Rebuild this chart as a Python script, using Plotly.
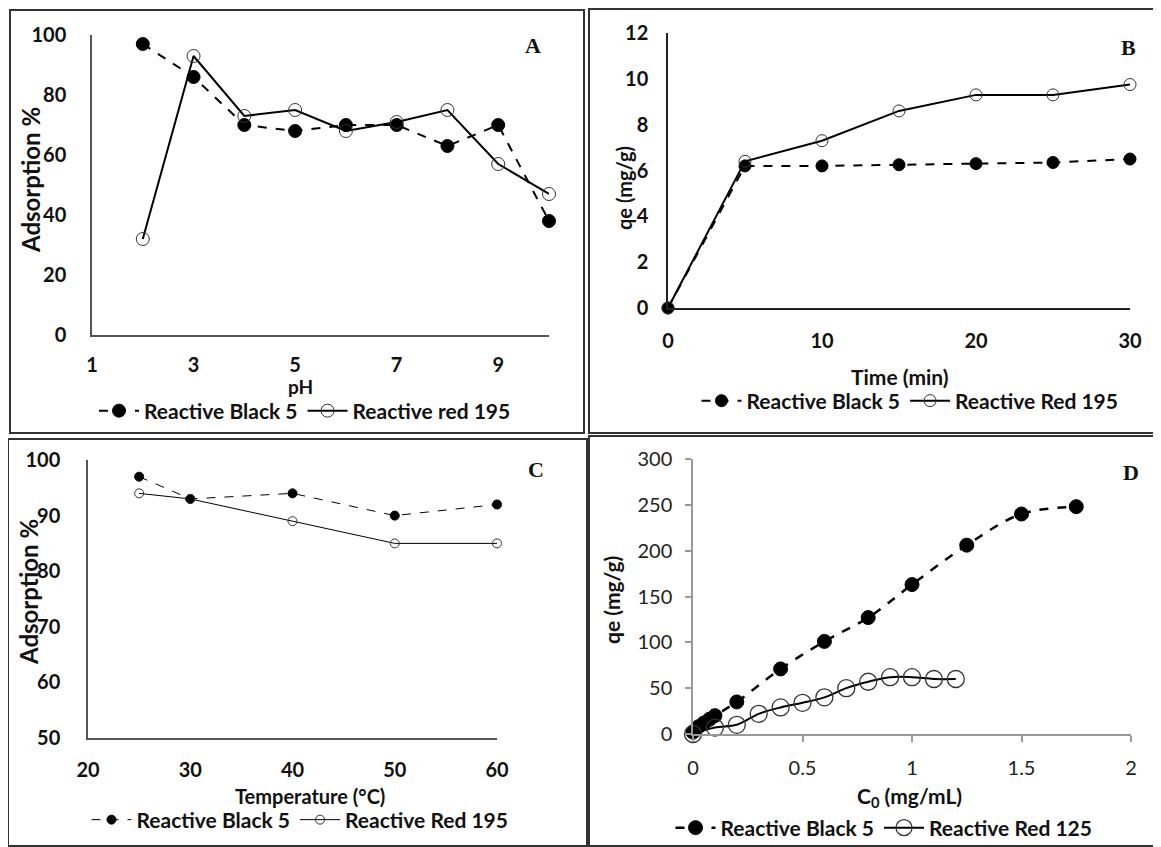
import plotly.graph_objects as go

# ---------------- data ----------------
# Panel A: pH
ph = [2, 3, 4, 5, 6, 7, 8, 9, 10]
a_black5 = [97, 86, 70, 68, 70, 70, 63, 70, 38]
a_red195 = [32, 93, 73, 75, 68, 71, 75, 57, 47]

# Panel B: time
time_min = [0, 5, 10, 15, 20, 25, 30]
b_black5 = [0, 6.2, 6.2, 6.25, 6.3, 6.35, 6.5]
b_red195 = [0, 6.4, 7.3, 8.6, 9.3, 9.3, 9.75]

# Panel C: temperature
temp_c = [25, 30, 40, 50, 60]
c_black5 = [97, 93, 94, 90, 92]
c_red195 = [94, 93, 89, 85, 85]

# Panel D: initial concentration
d_black5_x = [0, 0.01, 0.025, 0.05, 0.075, 0.1, 0.2, 0.4, 0.6, 0.8, 1.0, 1.25, 1.5, 1.75]
d_black5_y = [2, 4, 8, 12, 16, 20, 35, 71, 101, 127, 163, 206, 240, 248]
d_red125_x = [0, 0.1, 0.2, 0.3, 0.4, 0.5, 0.6, 0.7, 0.8, 0.9, 1.0, 1.1, 1.2]
d_red125_y = [0, 7, 10, 22, 29, 34, 40, 50, 57, 62, 62, 60, 60]

# tick labels
a_xticks = [1, 3, 5, 7, 9]
a_yticks = [0, 20, 40, 60, 80, 100]
b_xticks = [0, 10, 20, 30]
b_yticks = [0, 2, 4, 6, 8, 10, 12]
c_xticks = [20, 30, 40, 50, 60]
c_yticks = [50, 60, 70, 80, 90, 100]
d_xticks = [0, 0.5, 1, 1.5, 2]
d_yticks = [0, 50, 100, 150, 200, 250, 300]

W, H = 1161, 847
OFF = 8  # page body margin of the HTML wrapper
FONT = "Lato"
BOLD_TICK = dict(family=FONT, size=20, color="#111", weight="bold")


def px(x):
    return (x - OFF) / W


def py(y):
    return 1 - (y - OFF) / H


fig = go.Figure()

# ---------- traces ----------
def add(x, y, name, xa, ya, leg, filled, dash, lw, msize, shape="linear", mlw=1):
    fig.add_trace(go.Scatter(
        x=x, y=y, name=name, xaxis=xa, yaxis=ya, legend=leg,
        mode="lines+markers", cliponaxis=False,
        line=dict(color="black", width=lw, dash=dash, shape=shape),
        marker=dict(symbol="circle" if filled else "circle-open", size=msize,
                    color="black" if filled else "#333",
                    line=dict(width=mlw, color="black" if filled else "#333")),
    ))

add(ph, a_black5, "Reactive Black 5", "x", "y", "legend", True, "dash", 2, 13)
add(ph, a_red195, "Reactive red 195", "x", "y", "legend", False, "solid", 2, 13)
add(time_min, b_black5, "Reactive Black 5", "x2", "y2", "legend2", True, "dash", 2, 12)
add(time_min, b_red195, "Reactive Red 195", "x2", "y2", "legend2", False, "solid", 2, 12)
add(temp_c, c_black5, "Reactive Black 5", "x3", "y3", "legend3", True, "dash", 1, 9)
add(temp_c, c_red195, "Reactive Red 195", "x3", "y3", "legend3", False, "solid", 1, 9)
add(d_black5_x, d_black5_y, "Reactive Black 5", "x4", "y4", "legend4", True, "dash", 2.5, 14, "spline")
add(d_red125_x, d_red125_y, "Reactive Red 125", "x4", "y4", "legend4", False, "solid", 2, 17, "spline", 1.3)

# ---------- axes ----------
def axis(domain, rng, ticks, color="#555", tickfont=BOLD_TICK, outside=False, fmt=None, standoff=16):
    d = dict(domain=domain, range=rng, tickvals=ticks, showgrid=False, zeroline=False,
             showline=True, linecolor=color, linewidth=1.5, tickfont=tickfont,
             ticklabelstandoff=standoff, fixedrange=True, automargin=False)
    if outside:
        d.update(ticks="outside", ticklen=6, tickcolor="#999", tickwidth=1.5, ticklabelstandoff=9)
    else:
        d.update(ticks="")
    if fmt:
        d["ticktext"] = fmt
    return d

D_TICK = dict(family=FONT, size=20, color="#222")
fig.update_layout(
    xaxis=axis([px(92), px(549)], [1, 10], a_xticks, standoff=11) | dict(anchor="y"),
    yaxis=axis([py(335), py(35)], [0, 100], a_yticks, standoff=20) | dict(anchor="x"),
    xaxis2=axis([px(668), px(1130)], [0, 30], b_xticks, color="#222", standoff=14) | dict(anchor="y2"),
    yaxis2=axis([py(308), py(33)], [0, 12], b_yticks, color="#222", standoff=14) | dict(anchor="x2"),
    xaxis3=axis([px(88), px(497)], [20, 60], c_xticks, standoff=13) | dict(anchor="y3"),
    yaxis3=axis([py(738), py(460)], [50, 100], c_yticks, standoff=22) | dict(anchor="x3"),
    xaxis4=axis([px(693), px(1131)], [0, 2], d_xticks, color="#999",
                tickfont=D_TICK, outside=True,
                fmt=["0", "0.5", "1", "1.5", "2"]) | dict(anchor="y4"),
    yaxis4=axis([py(734), py(459)], [0, 300], d_yticks, color="#999",
                tickfont=D_TICK, outside=True) | dict(anchor="x4"),
)

# ---------- legends ----------
LEGFONT = dict(family=FONT, size=21, color="#111", weight="bold")
def leg(x, y):
    return dict(x=px(x), y=py(y), xanchor="center", yanchor="middle", orientation="h",
                font=LEGFONT, bgcolor="rgba(0,0,0,0)", itemwidth=40, tracegroupgap=0,
                itemclick=False, itemdoubleclick=False)

fig.update_layout(
    legend=leg(305, 411),
    legend2=leg(910, 401),
    legend3=leg(300, 820),
    legend4=leg(884, 828),
)

# ---------- annotations: axis titles and panel letters ----------
TFONT = dict(family=FONT, size=21, color="#111", weight="bold")
TFONT_S = dict(family=FONT, size=20, color="#111", weight="bold")
TFONT_BIG = dict(family=FONT, size=24, color="#111", weight="bold")
ann = []
def title(text, x, y, angle=0, font=TFONT):
    ann.append(dict(text=text, x=px(x), y=py(y), xref="paper", yref="paper",
                    showarrow=False, textangle=angle, font=font,
                    xanchor="center", yanchor="middle"))

title("pH", 300, 386, 0, dict(family=FONT, size=19, color="#111", weight="bold"))
title("Adsorption %", 30, 180, -90, TFONT_BIG)
title("Time (min)", 900, 376)
title("qe (mg/g)", 624, 188, -90, TFONT_S)
title("Temperature (°C)", 310, 796, 0, TFONT_S)
title("Adsorption %", 28, 592, -90, TFONT_BIG)
title("C<sub>0</sub> (mg/mL)", 910, 797)
title("qe (mg/g)", 611, 600, -90)

LFONT = dict(family="Liberation Serif", size=22, color="#111", weight="bold")
for letter, x, y in [("A", 533, 45), ("B", 1128, 47), ("C", 536, 470), ("D", 1131, 472)]:
    ann.append(dict(text=letter, x=px(x), y=py(y), xref="paper", yref="paper",
                    showarrow=False, font=LFONT, xanchor="center", yanchor="middle"))

# ---------- panel borders ----------
shapes = []
for x0, y0, x1, y1 in [(10, 10, 584, 433), (589, 9, 1160, 433),
                       (8, 439, 587, 846), (589, 436, 1160, 846)]:
    shapes.append(dict(type="rect", xref="paper", yref="paper",
                       x0=px(x0), x1=px(x1), y0=py(y1), y1=py(y0),
                       line=dict(color="#333", width=2)))

fig.update_layout(
    width=W, height=H, margin=dict(l=0, r=0, t=0, b=0, autoexpand=False),
    paper_bgcolor="white", plot_bgcolor="white",
    annotations=ann, shapes=shapes,
    font=dict(family=FONT, color="#111"),
)

fig.write_html("out.html")
